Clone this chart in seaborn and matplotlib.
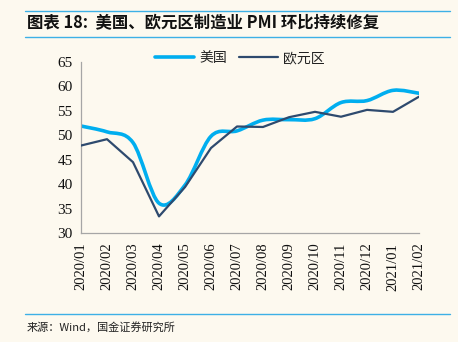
import numpy as np
import pandas as pd
import seaborn as sns
import matplotlib
matplotlib.use("Agg")
import matplotlib.pyplot as plt
from matplotlib.path import Path
from matplotlib.patches import PathPatch
from matplotlib.lines import Line2D

months = ["2020/01", "2020/02", "2020/03", "2020/04", "2020/05", "2020/06", "2020/07",
          "2020/08", "2020/09", "2020/10", "2020/11", "2020/12", "2021/01", "2021/02"]
us_pmi = [51.9, 50.7, 48.5, 36.1, 39.8, 49.8, 50.9, 53.1, 53.2, 53.4, 56.7, 57.1, 59.2, 58.6]
ez_pmi = [47.9, 49.2, 44.5, 33.4, 39.4, 47.4, 51.8, 51.7, 53.7, 54.8, 53.8, 55.2, 54.8, 57.9]
yticks = [30, 35, 40, 45, 50, 55, 60, 65]

BG = "#FDF9EF"
US_C = "#00AEEF"
EZ_C = "#2E4A6E"
RULE_C = "#3DB0E6"

sns.set_theme(style="white")
plt.rcParams["font.family"] = ["Noto Sans CJK SC", "DejaVu Sans"]

fig = plt.figure(figsize=(4.58, 3.42), dpi=100, facecolor=BG)
W, H = 458, 342
ax = fig.add_axes([81 / W, 1 - 233 / H, (419 - 81) / W, (233 - 62) / H])
ax.set_facecolor(BG)

df = pd.DataFrame({"x": np.arange(len(months)), "us": us_pmi, "ez": ez_pmi})

# Euro area: straight segments
sns.lineplot(data=df, x="x", y="ez", ax=ax, color=EZ_C, linewidth=1.6, zorder=3)

# US: smoothed curve (Catmull-Rom -> cubic Bezier), drawn in data coordinates
xs = df["x"].to_numpy(dtype=float)
ys = df["us"].to_numpy(dtype=float)
verts = [(xs[0], ys[0])]
codes = [Path.MOVETO]
n = len(xs)
t = 1 / 6
for i in range(n - 1):
    p0 = (xs[max(i - 1, 0)], ys[max(i - 1, 0)])
    p1 = (xs[i], ys[i])
    p2 = (xs[i + 1], ys[i + 1])
    p3 = (xs[min(i + 2, n - 1)], ys[min(i + 2, n - 1)])
    c1 = (p1[0] + (p2[0] - p0[0]) * t, p1[1] + (p2[1] - p0[1]) * t)
    c2 = (p2[0] - (p3[0] - p1[0]) * t, p2[1] - (p3[1] - p1[1]) * t)
    verts += [c1, c2, p2]
    codes += [Path.CURVE4] * 3
ax.add_patch(PathPatch(Path(verts, codes), facecolor="none", edgecolor=US_C,
                       linewidth=2.6, capstyle="round", joinstyle="round", zorder=2))

ax.set_xlim(0, n - 1)
ax.set_ylim(30, 65)
ax.set_xticks(range(n))
ax.set_xticklabels(months, rotation=90)
ax.set_yticks(yticks)
ax.set_yticklabels([str(v) for v in yticks])
for lbl in ax.get_xticklabels():
    lbl.set_family(["Liberation Serif"])
    lbl.set_fontsize(10.5)
    lbl.set_color("#111111")
for lbl in ax.get_yticklabels():
    lbl.set_family(["Liberation Serif"])
    lbl.set_fontsize(11)
    lbl.set_color("#111111")
ax.set_xlabel("")
ax.set_ylabel("")
for s in ["top", "right"]:
    ax.spines[s].set_visible(False)
for s in ["left", "bottom"]:
    ax.spines[s].set_color("#A6A6A6")
    ax.spines[s].set_linewidth(0.9)
ax.tick_params(axis="both", direction="out", length=4, width=0.9, color="#A6A6A6", pad=2)
ax.tick_params(axis="x", pad=3)
ax.grid(False)

handles = [Line2D([0], [0], color=US_C, linewidth=2.6),
           Line2D([0], [0], color=EZ_C, linewidth=1.6)]
fig.legend(handles, ["美国", "欧元区"], loc="center", bbox_to_anchor=(240 / W, 1 - 58 / H),
           ncol=2, frameon=False, fontsize=10, handlelength=2.8, handletextpad=0.4,
           columnspacing=0.8, labelcolor="#222222")

# header / footer
fig.add_artist(Line2D([25 / W, 450 / W], [1 - 11 / H, 1 - 11 / H], color=RULE_C, linewidth=1.0))
fig.add_artist(Line2D([25 / W, 450 / W], [1 - 37 / H, 1 - 37 / H], color=RULE_C, linewidth=1.0))
fig.add_artist(Line2D([25 / W, 450 / W], [1 - 314 / H, 1 - 314 / H], color=RULE_C, linewidth=1.0))
fig.text(27 / W, 1 - 23 / H, "图表 18:  美国、欧元区制造业 PMI 环比持续修复", fontsize=11.8,
         fontweight="bold", va="center", ha="left", color="#111111",
         family=["Noto Sans CJK SC", "DejaVu Sans"])
fig.text(27 / W, 1 - 327 / H, "来源：Wind，国金证券研究所", fontsize=8, va="center", ha="left",
         color="#222222", family=["Noto Sans CJK SC", "DejaVu Sans"])

fig.savefig("out.png", dpi=100, facecolor=BG)
